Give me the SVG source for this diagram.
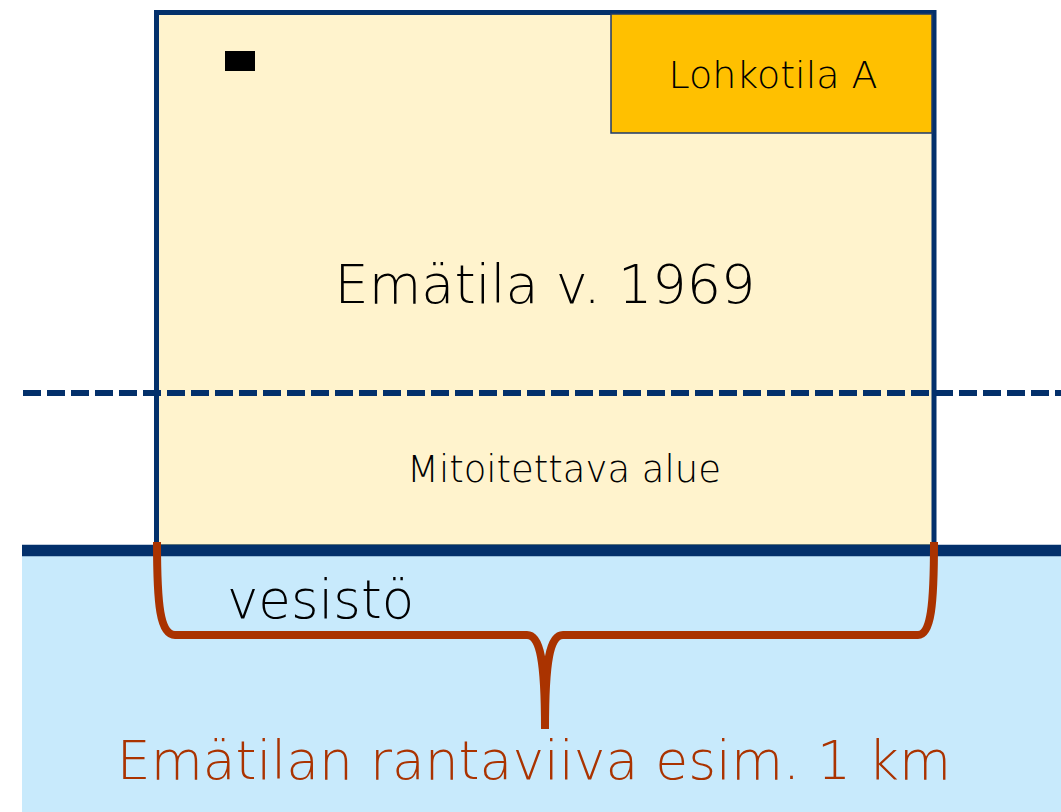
<svg xmlns="http://www.w3.org/2000/svg" width="1061" height="812" viewBox="0 0 1061 812">
<style>
.t{font-family:"DejaVu Sans","Liberation Sans",sans-serif;font-weight:200;fill:#000}
.navy{stroke:#03306b;fill:none}
</style>
<rect width="1061" height="812" fill="#fff"/>
<g id="water">
<rect x="22" y="551" width="1039" height="261" fill="#c8eafc"/>
</g>
<g id="ematila">
<rect x="156.5" y="12.5" width="777.5" height="533" fill="#fff3cd"/>
<line x1="157" y1="545" x2="934" y2="545" stroke="#7d8a7c" stroke-width="2"/>
<path class="navy" stroke-width="5" d="M156.5,545 V12.5 H934 V545"/>
<text class="t" x="545" y="303" font-size="54" text-anchor="middle">Emätila v. 1969</text>
<text class="t" x="564" y="482" font-size="37" text-anchor="middle">Mitoitettava alue</text>
</g>
<g id="marker-rect">
<rect x="225" y="51" width="30" height="20" fill="#000"/>
</g>
<g id="lohkotila">
<rect x="611" y="14" width="321" height="119" fill="#ffc000" stroke="#1f3a6a" stroke-width="1.5"/>
<text class="t" x="773" y="88" font-size="38" text-anchor="middle">Lohkotila A</text>
</g>
<g id="connectors">
<line class="navy" x1="23" y1="393" x2="1061" y2="393" stroke-width="6" stroke-dasharray="18 6"/>
<line class="navy" x1="22" y1="550.5" x2="1061" y2="550.5" stroke-width="11.5"/>
<path d="M157,542 C157,605 160,635 175,635 L527,635 C540,635 545,660 545,729 M545,729 C545,660 550,635 563,635 L918,635 C931,635 934,605 934,542" fill="none" stroke="#aa3300" stroke-width="8"/>
</g>
<g id="labels">
<text class="t" x="227" y="618" font-size="53">vesistö</text>
<text class="t" x="534" y="779" font-size="53.5" text-anchor="middle" style="fill:#aa3300">Emätilan rantaviiva esim. 1 km</text>
</g>
</svg>
